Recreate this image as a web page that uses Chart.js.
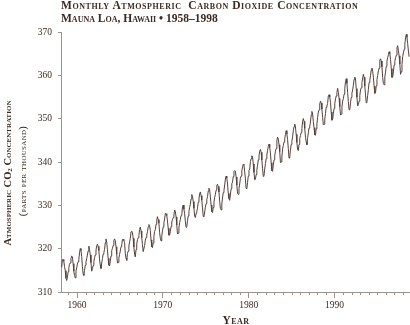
<!DOCTYPE html>
<html>
<head>
<meta charset="utf-8">
<script src="https://cdn.jsdelivr.net/npm/chart.js@4"></script>
<style>
  html, body { margin:0; padding:0; background:#fff; }
  #wrap { position:relative; width:410px; height:325px; overflow:hidden; }
  canvas { position:absolute; left:0; top:0; }
  .t { position:absolute; font-family:'Liberation Serif', serif; font-variant:small-caps; color:#3b2a1f; white-space:nowrap; }
  #t1 { left:61px; top:-1px; font-weight:bold; font-size:11.5px; line-height:12px; letter-spacing:0.55px; }
  #t2 { left:61px; top:12px; font-weight:bold; font-size:11.5px; line-height:12px; letter-spacing:0px; }
  .rot { width:220px; text-align:center; transform:rotate(-90deg); transform-origin:50% 50%; }
  #yt1 { left:-101px; top:165px; font-weight:bold; font-size:10.5px; line-height:14px; }
  #yt2 { left:-87px; top:164px; font-size:10.5px; line-height:14px; letter-spacing:0.3px; }
  #xt { left:186px; top:314px; width:100px; text-align:center; font-weight:bold; font-size:11.5px; line-height:12px; letter-spacing:0.4px; }
</style>
</head>
<body>
<div id="wrap">
  <canvas id="c" width="410" height="325"></canvas>
  <div class="t" id="t1">Monthly Atmospheric&nbsp; Carbon Dioxide Concentration</div>
  <div class="t" id="t2">Mauna Loa, Hawaii • 1958–1998</div>
  <div class="t rot" id="yt1">Atmospheric CO<sub style="font-size:7px;vertical-align:-1px">2</sub> Concentration</div>
  <div class="t rot" id="yt2">(parts per thousand)</div>
  <div class="t" id="xt">Year</div>
</div>
<script>
// Monthly CO2 (ppm), Mauna Loa, starting March 1958
const firstYear = 1958;
const firstMonth = 3;
const co2 = [
  315.71, 317.45, 317.50, 317.10, 315.86, 314.93, 313.20, 312.66, 313.33, 314.67,
  315.62, 316.38, 316.71, 317.72, 318.29, 318.15, 316.54, 314.80, 313.84, 313.26, 314.80, 315.58,
  316.43, 316.97, 317.58, 319.02, 320.03, 319.59, 318.18, 315.91, 314.16, 313.83, 315.00, 316.19,
  316.93, 317.70, 318.54, 319.48, 320.58, 319.77, 318.57, 316.79, 314.80, 315.38, 316.10, 317.01,
  317.94, 318.56, 319.68, 320.63, 321.01, 320.55, 319.58, 317.40, 316.26, 315.42, 316.69, 317.69,
  318.74, 319.08, 319.86, 321.39, 322.25, 321.47, 319.74, 317.77, 316.21, 315.99, 317.12, 318.31,
  319.57, 320.07, 320.73, 321.77, 322.25, 321.89, 320.44, 318.70, 316.70, 316.79, 317.79, 318.71,
  319.44, 320.44, 320.89, 322.13, 322.16, 321.87, 321.39, 318.81, 317.81, 317.30, 318.87, 319.42,
  320.62, 321.59, 322.39, 323.87, 324.01, 323.75, 322.39, 320.37, 318.64, 318.10, 319.79, 321.08,
  322.07, 322.50, 323.04, 324.42, 325.00, 324.09, 322.55, 320.92, 319.31, 319.31, 320.72, 321.96,
  322.57, 323.15, 323.89, 325.02, 325.57, 325.36, 324.14, 322.03, 320.41, 320.25, 321.31, 322.84,
  324.00, 324.42, 325.64, 326.66, 327.38, 326.70, 325.89, 323.67, 322.38, 321.78, 322.85, 324.12,
  325.03, 325.99, 326.87, 328.13, 328.07, 327.66, 326.35, 324.69, 323.10, 323.16, 323.98, 325.13,
  326.17, 326.68, 327.18, 327.78, 328.92, 328.57, 327.34, 325.46, 323.36, 323.57, 324.80, 326.01,
  326.77, 327.63, 327.75, 329.72, 330.07, 329.09, 328.05, 326.32, 324.93, 325.06, 326.50, 327.55,
  328.54, 329.56, 330.30, 331.50, 332.48, 332.07, 330.87, 329.31, 327.51, 327.18, 328.16, 328.64,
  329.35, 330.71, 331.48, 332.65, 333.09, 332.25, 331.18, 329.40, 327.43, 327.37, 328.46, 329.57,
  330.40, 331.40, 332.04, 333.31, 333.96, 333.59, 331.91, 330.06, 328.56, 328.34, 329.49, 330.76,
  331.75, 332.56, 333.50, 334.58, 334.87, 334.34, 333.05, 330.94, 329.30, 328.94, 330.31, 331.68,
  332.93, 333.42, 334.70, 336.07, 336.74, 336.27, 334.93, 332.75, 331.58, 331.16, 332.40, 333.85,
  334.97, 335.39, 336.64, 337.76, 338.01, 337.89, 336.54, 334.68, 332.76, 332.54, 333.92, 334.95,
  336.23, 336.76, 337.96, 338.89, 339.47, 339.29, 337.73, 336.09, 333.91, 333.86, 335.29, 336.73,
  338.01, 338.36, 340.08, 340.77, 341.46, 341.17, 339.56, 337.60, 335.88, 336.01, 337.10, 338.21,
  339.24, 340.48, 341.38, 342.51, 342.91, 342.25, 340.49, 338.43, 336.69, 336.85, 338.36, 339.61,
  340.75, 341.61, 342.70, 343.56, 344.13, 343.35, 342.06, 339.82, 337.97, 337.86, 339.26, 340.49,
  341.38, 342.52, 343.10, 344.94, 345.75, 345.32, 343.99, 342.39, 339.86, 339.99, 341.16, 342.99,
  343.82, 344.63, 345.38, 346.35, 347.24, 346.48, 345.22, 343.11, 340.90, 341.18, 342.80, 344.04,
  344.79, 345.82, 347.25, 348.17, 348.75, 348.07, 346.38, 344.51, 342.92, 342.62, 344.06, 345.38,
  346.11, 346.78, 347.68, 349.37, 350.03, 349.37, 347.76, 345.73, 344.68, 343.99, 345.48, 346.72,
  347.84, 348.29, 349.23, 350.80, 351.66, 351.07, 349.33, 347.92, 346.27, 346.18, 347.64, 348.78,
  350.25, 351.54, 352.05, 353.41, 354.04, 353.62, 352.22, 350.27, 348.55, 348.72, 349.91, 351.18,
  352.60, 352.92, 353.53, 355.26, 355.52, 354.97, 353.75, 351.52, 349.64, 349.83, 351.14, 352.37,
  353.50, 354.55, 355.23, 356.04, 357.00, 356.07, 354.67, 352.76, 350.82, 351.04, 352.69, 354.07,
  354.59, 355.63, 357.03, 358.48, 359.22, 358.12, 356.06, 353.92, 352.05, 352.11, 353.64, 354.89,
  355.88, 356.63, 357.72, 359.07, 359.58, 359.17, 356.94, 354.92, 352.94, 353.23, 354.09, 355.33,
  356.63, 357.10, 358.32, 359.41, 360.23, 359.55, 357.53, 355.48, 353.67, 353.95, 355.30, 356.78,
  358.34, 358.89, 359.95, 361.25, 361.67, 360.94, 359.55, 357.49, 355.84, 356.00, 357.59, 359.05,
  359.98, 361.03, 361.66, 363.48, 363.82, 363.30, 361.94, 359.50, 358.11, 357.80, 359.61, 360.74,
  362.09, 363.29, 364.06, 364.76, 365.45, 365.01, 363.70, 361.54, 359.51, 359.65, 360.80, 362.38,
  363.23, 364.06, 364.61, 366.40, 366.84, 365.68, 364.52, 362.57, 360.24, 360.83, 362.49, 364.34,
  365.18, 365.98, 367.13, 368.61, 369.46, 368.78, 367.29, 365.60, 364.30
];
const xTickYears = [1960, 1970, 1980, 1990];
const minorTickYears = [1959,1961,1962,1963,1964,1965,1966,1967,1968,1969,1971,1972,1973,1974,1975,1976,1977,1978,1979,1981,1982,1983,1984,1985,1986,1987,1988,1989,1991,1992,1993,1994,1995,1996,1997,1998];
const yTicks = [310, 320, 330, 340, 350, 360, 370];

const points = co2.map((v, i) => {
  const m = firstMonth - 1 + i;
  return { x: firstYear + Math.floor(m / 12) + ((m % 12) + 0.5) / 12, y: v };
});

const inkColor = '#3b2a1f';
const axisColor = '#9c948c';

const minorTicks = {
  id: 'minorTicks',
  afterDraw(chart) {
    const xs = chart.scales.x, ctx = chart.ctx;
    const yb = chart.chartArea.bottom;
    ctx.save();
    ctx.strokeStyle = axisColor;
    ctx.lineWidth = 1;
    minorTickYears.forEach(yr => {
      const px = Math.round(xs.getPixelForValue(yr)) + 0.5;
      ctx.beginPath();
      ctx.moveTo(px, yb);
      ctx.lineTo(px, yb + 3);
      ctx.stroke();
    });
    ctx.restore();
  }
};

new Chart(document.getElementById('c'), {
  type: 'line',
  data: {
    datasets: [{
      data: points,
      borderColor: '#55403a',
      borderWidth: 1,
      pointRadius: 0,
      tension: 0,
      fill: false
    }]
  },
  options: {
    responsive: false,
    animation: false,
    layout: { padding: { top: 32, right: 0, left: 0, bottom: 0 } },
    plugins: { legend: { display: false }, tooltip: { enabled: false }, title: { display: false } },
    scales: {
      x: {
        type: 'linear',
        min: 1958.13,
        max: 1998.81,
        afterFit: s => { s.height = 33; },
        afterBuildTicks: s => { s.ticks = xTickYears.map(v => ({ value: v })); },
        border: { display: true, color: axisColor, width: 1 },
        grid: { drawOnChartArea: false, drawTicks: true, tickLength: 6, color: axisColor },
        ticks: {
          color: inkColor, padding: 2, maxRotation: 0, autoSkip: false,
          font: { family: "'Liberation Serif', serif", size: 9.5 },
          callback: v => String(v)
        }
      },
      y: {
        min: 310,
        max: 370,
        afterFit: s => { s.width = 61; },
        afterBuildTicks: s => { s.ticks = yTicks.map(v => ({ value: v })); },
        border: { display: true, color: axisColor, width: 1 },
        grid: { drawOnChartArea: false, drawTicks: true, tickLength: 3, color: axisColor },
        ticks: {
          color: inkColor, padding: 6,
          font: { family: "'Liberation Serif', serif", size: 9.5 },
          callback: v => String(v)
        }
      }
    }
  },
  plugins: [minorTicks]
});
</script>
</body>
</html>
